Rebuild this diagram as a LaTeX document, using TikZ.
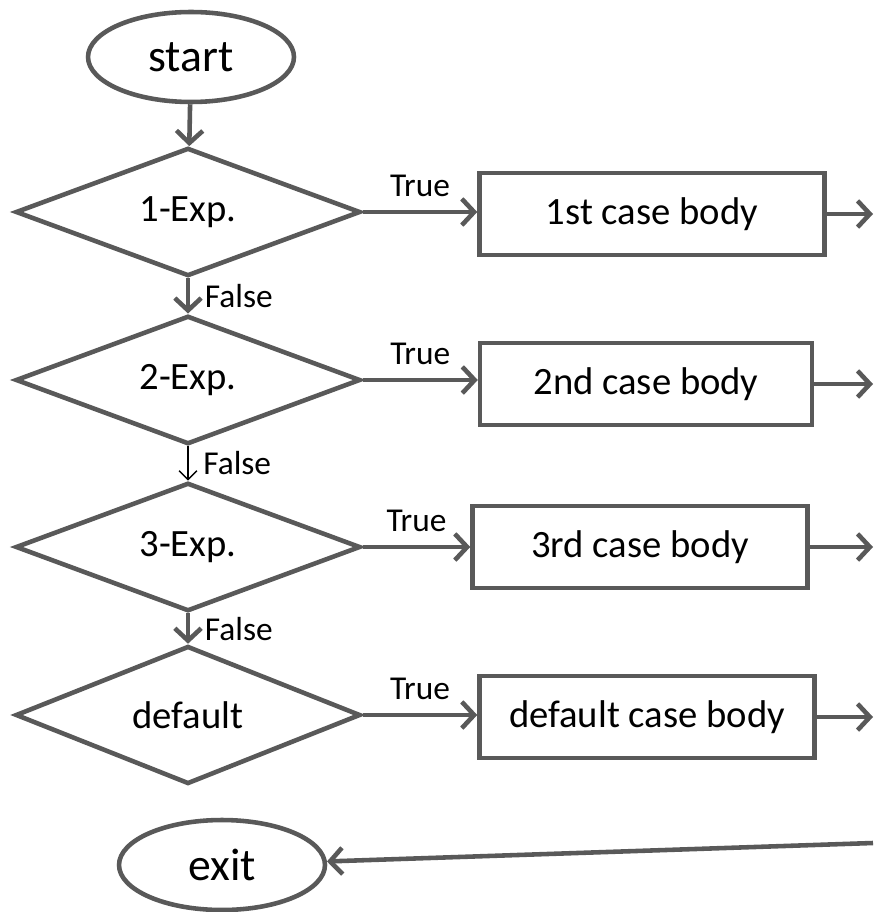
\documentclass[tikz,border=0pt]{standalone}
\usepackage{fontspec}
\setmainfont{Carlito}
\usepackage{tikz}
\usetikzlibrary{arrows.meta,shapes.geometric}
\definecolor{ligne}{RGB}{89,89,89}

\begin{document}
\begin{tikzpicture}[x=0.02cm,y=-0.02cm,
    fleche/.style={ligne,line width=2.6pt,-{Straight Barb[length=7pt,width=15pt]}},
    fine/.style={black,line width=0.8pt,-{Straight Barb[length=5pt,width=10pt]}},
    borne/.style={ellipse,draw=ligne,line width=2.6pt,minimum width=4.12cm,
                  minimum height=1.8cm,font=\fontsize{26}{30}\selectfont},
    test/.style={diamond,draw=ligne,line width=2.6pt,minimum width=6.9cm,
                 minimum height=2.46cm,inner sep=0pt,font=\fontsize{22}{26}\selectfont},
    corps/.style={rectangle,draw=ligne,line width=2.6pt,minimum height=1.64cm,
                  font=\fontsize{22}{26}\selectfont},
    vrai/.style={above,yshift=4pt,text=black,font=\fontsize{19}{22}\selectfont},
    faux/.style={right,xshift=5pt,text=black,font=\fontsize{19}{22}\selectfont}]
    % 1 unit = 1 px of the 873 x 912 sketch
    \useasboundingbox (0,0) rectangle (873,912);
    \node[borne] (start) at (191,57) {start};
    \node[test] (e1) at (188,212) {1-Exp.};
    \node[test] (e2) at (188,380) {2-Exp.};
    \node[test] (e3) at (188,547) {3-Exp.};
    \node[test] (e4) at (188,715) {default};
    \node[corps,minimum width=6.9cm]  (c1) at (652,214) {1st case body};
    \node[corps,minimum width=6.64cm] (c2) at (646,384) {2nd case body};
    \node[corps,minimum width=6.7cm]  (c3) at (640,547) {3rd case body};
    \node[corps,minimum width=6.7cm]  (c4) at (647,717) {default case body};
    \node[borne] (exit) at (222,865) {exit};
    \coordinate (s1) at (873,214);
    \coordinate (s2) at (873,384);
    \coordinate (s3) at (873,547);
    \coordinate (s4) at (873,717);
    \coordinate (retour) at (873,843);
    % vertical chain
    \draw[fleche] (start) -- (e1);
    \draw[fleche] (e1) -- node[faux]{False} (e2);
    \draw[fine] (e2) -- node[faux]{False} (e3);
    \draw[fleche] (e3) -- node[faux]{False} (e4);
    % cases
    \foreach \i in {1,...,4}{
      \draw[fleche] (e\i.east) -- node[vrai]{True} (e\i.east -| c\i.west);
      \draw[fleche] (c\i.east) -- (s\i);}
    \draw[fleche] (retour) -- (exit);
\end{tikzpicture}
\end{document}
